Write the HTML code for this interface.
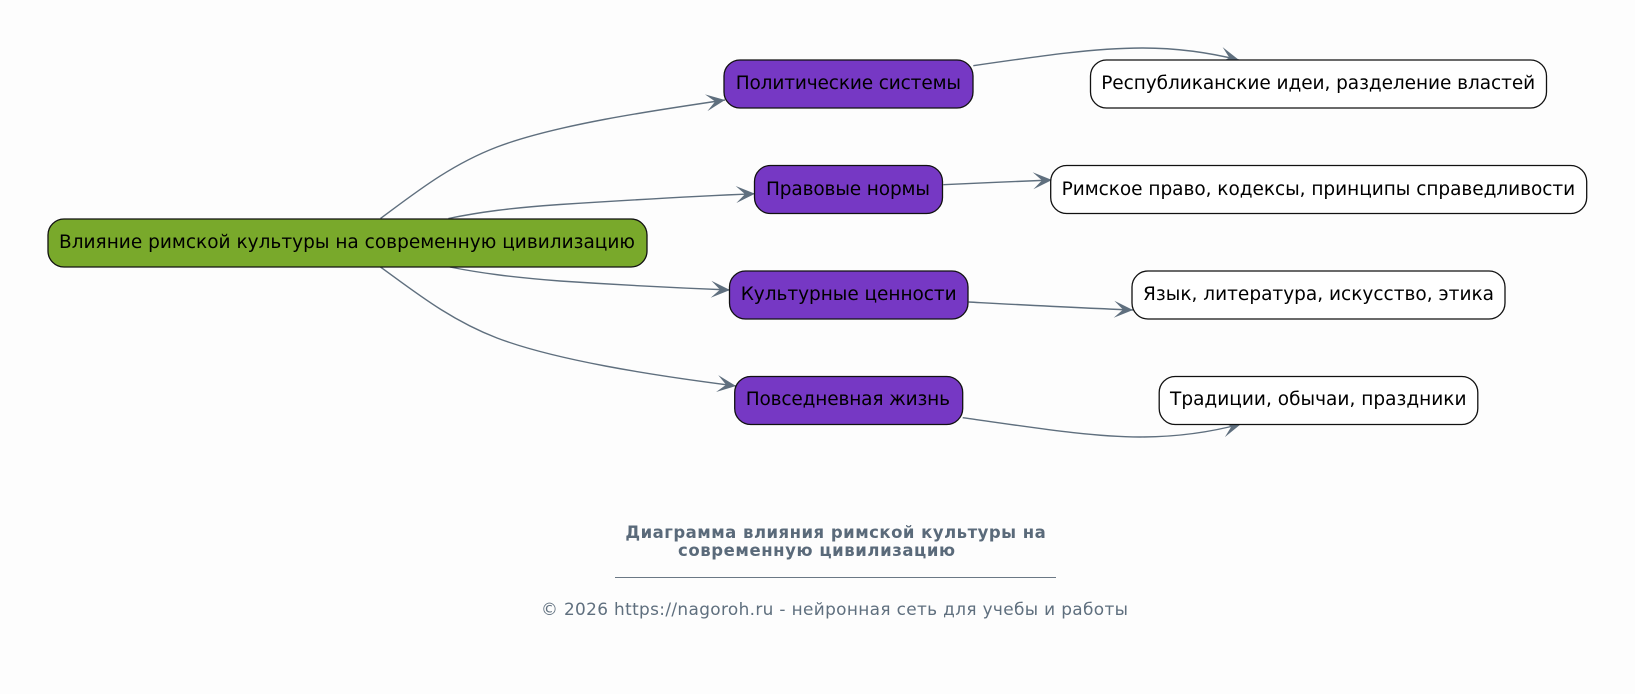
<!DOCTYPE html>
<html>
<head>
<meta charset="utf-8">
<style>
html,body{margin:0;padding:0;background:#fdfdfd;width:1635px;height:694px;overflow:hidden}
svg{display:block}
text{font-family:"DejaVu Sans","Liberation Sans",sans-serif}
.n{font-size:18.5px;fill:#000}
.e{fill:none;stroke:#5f6f7e;stroke-width:1.4;marker-end:url(#a)}
.b{stroke:#111;stroke-width:1.3}
</style>
</head>
<body>
<svg width="1635" height="694" viewBox="0 0 1635 694" xmlns="http://www.w3.org/2000/svg">
<defs>
<marker id="a" markerUnits="userSpaceOnUse" markerWidth="22" markerHeight="20" viewBox="0 -10 22 20" refX="19" refY="0" orient="auto">
<path d="M0,-8.5 L19,0 L0,8.5 L9,0 Z" fill="#5f6f7e"/>
</marker>
</defs>
<rect width="1635" height="694" fill="#fdfdfd"/>

<path class="e" d="M380.5 218.5 C415 193,450 165,497 147 C555 125,650 111,725 100"/>
<path class="e" d="M448.4 218.5 C480 212,510 208,560 204.5 C630 200,700 196,755 193.7"/>
<path class="e" d="M449.8 267 C480 273,510 277,560 281 C620 285,680 288,730 290"/>
<path class="e" d="M380.5 267 C415 292,450 320,497 338 C555 360,650 375,736 386"/>
<path class="e" d="M973.3 65.7 C1040 56,1095 48,1142 48 C1180 48,1215 54,1239 60"/>
<path class="e" d="M943.3 184.7 C980 183,1015 181.5,1052 180"/>
<path class="e" d="M968.7 302 C1025 305,1080 308,1133 310"/>
<path class="e" d="M962.7 417.7 C1030 427,1090 437,1140 437 C1180 437,1215 431,1241 424"/>

<rect class="b" x="48" y="219" width="599" height="48" rx="16" fill="#79a92b"/>
<text class="n" x="59" y="248" textLength="576">Влияние римской культуры на современную цивилизацию</text>

<rect class="b" x="724" y="60" width="249" height="48" rx="16" fill="#7638c4"/>
<text class="n" x="735.7" y="89" textLength="225.3">Политические системы</text>
<rect class="b" x="754.5" y="165.5" width="188" height="48" rx="16" fill="#7638c4"/>
<text class="n" x="766" y="195" textLength="164">Правовые нормы</text>
<rect class="b" x="729.5" y="271" width="238.5" height="48" rx="16" fill="#7638c4"/>
<text class="n" x="740.7" y="300" textLength="216">Культурные ценности</text>
<rect class="b" x="734.7" y="376.5" width="228" height="48" rx="16" fill="#7638c4"/>
<text class="n" x="745.7" y="405" textLength="204.3">Повседневная жизнь</text>

<rect class="b" x="1090.5" y="60" width="456" height="48" rx="16" fill="#fff"/>
<text class="n" x="1101.2" y="89" textLength="434">Республиканские идеи, разделение властей</text>
<rect class="b" x="1050.7" y="165.5" width="536" height="48" rx="16" fill="#fff"/>
<text class="n" x="1061.6" y="195" textLength="513.6">Римское право, кодексы, принципы справедливости</text>
<rect class="b" x="1132" y="271" width="373" height="48" rx="16" fill="#fff"/>
<text class="n" x="1143" y="300" textLength="351">Язык, литература, искусство, этика</text>
<rect class="b" x="1159.2" y="376.5" width="318.6" height="48" rx="16" fill="#fff"/>
<text class="n" x="1170" y="405" textLength="296.5">Традиции, обычаи, праздники</text>

<text x="625.4" y="538" font-size="16.5" font-weight="bold" fill="#5a6a7a" textLength="420.4">Диаграмма влияния римской культуры на</text>
<text x="678" y="556" font-size="16.5" font-weight="bold" fill="#5a6a7a" textLength="277">современную цивилизацию</text>
<line x1="615" y1="577.5" x2="1056" y2="577.5" stroke="#6b7885" stroke-width="1"/>
<text x="541" y="615" font-size="16.9" fill="#5f6f7e" textLength="587">© 2026 https://nagoroh.ru - нейронная сеть для учебы и работы</text>
</svg>
</body>
</html>
